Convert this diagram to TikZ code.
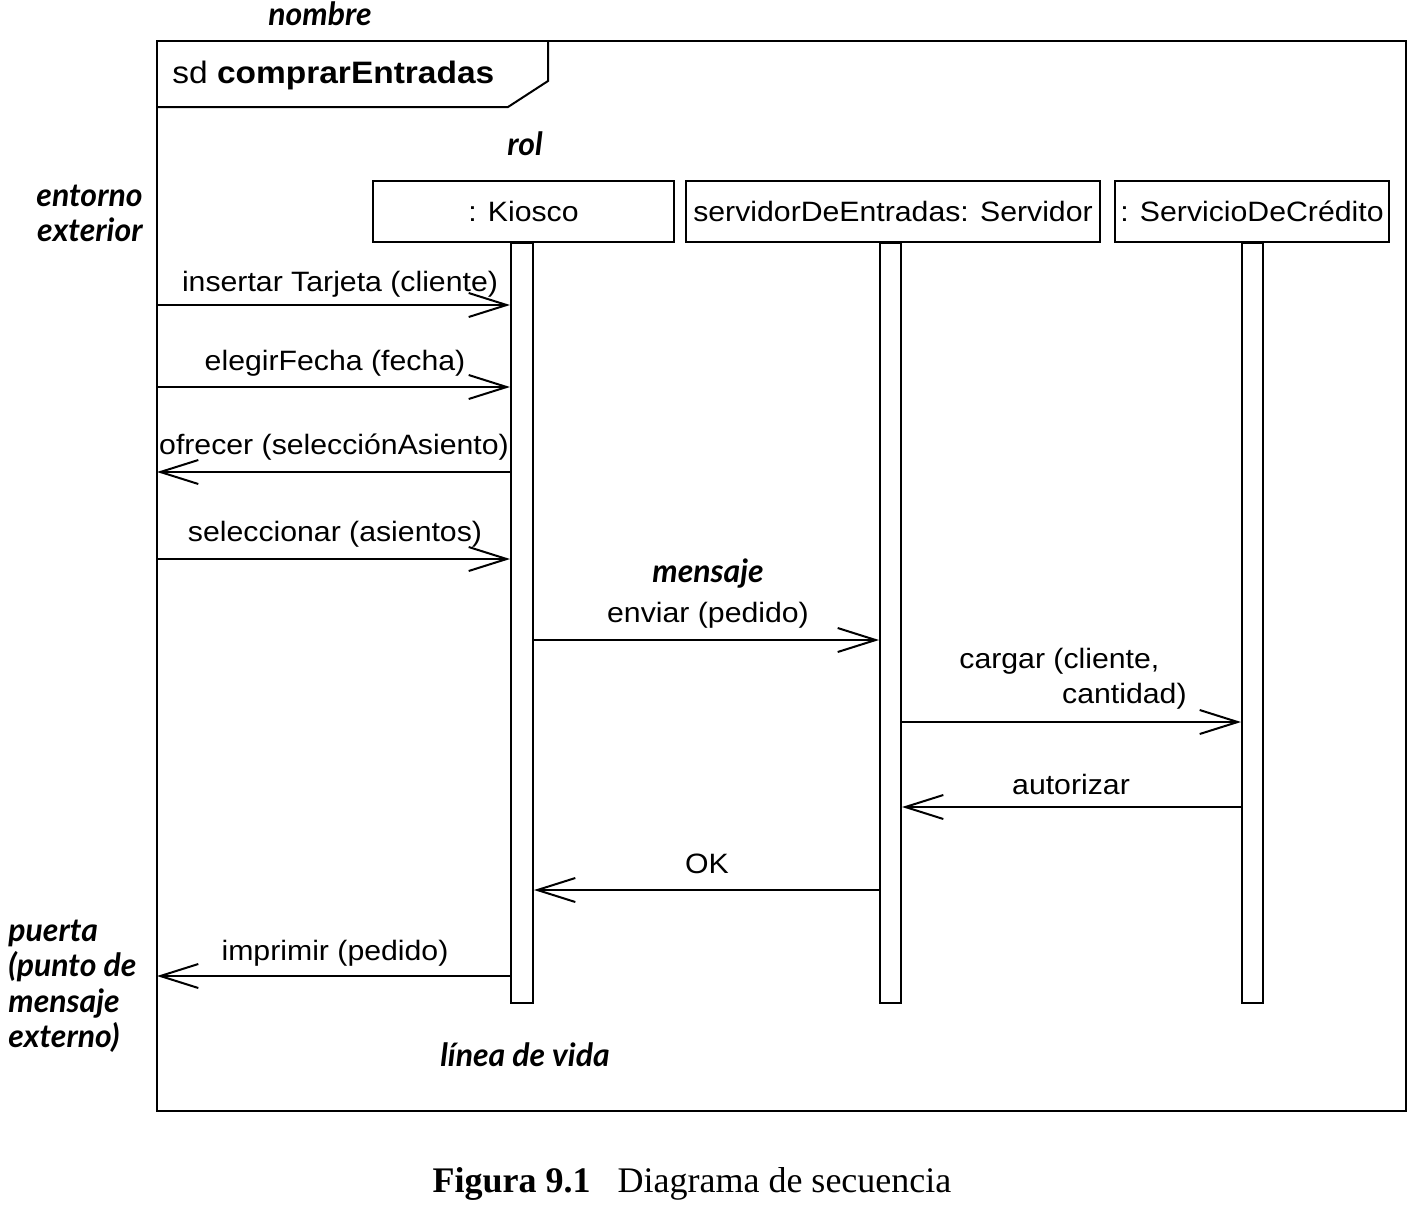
\documentclass[tikz,border=0pt]{standalone}
\usepackage{fontspec}
\setmainfont{Liberation Serif}
\newfontfamily\umlfont[FakeStretch=1.08]{Liberation Sans}
\newfontfamily\notefont{Lato}
\usetikzlibrary{arrows.meta}
\tikzset{
  umltext/.style={font=\umlfont\fontsize{14}{16}\selectfont, inner sep=0pt},
  note/.style={font=\notefont\fontsize{16}{17.5}\selectfont\bfseries\itshape, inner sep=0pt},
  head/.style={draw, line width=1pt, inner sep=0pt, umltext},
  bar/.style={draw, line width=1pt, fill=white, inner sep=0pt, minimum width=10.5pt, minimum height=380pt},
  msg/.style={draw, line width=1pt, -{Straight Barb[length=19pt,width=12pt,line width=1pt]}},
}
\begin{document}
\begin{tikzpicture}[x=0.5pt,y=-0.5pt]
\useasboundingbox (0,0) rectangle (1412,1205);

% frame
\coordinate (ftl) at (157,41);
\coordinate (fbr) at (1406,1111);
\draw[line width=1pt] (ftl) rectangle (fbr);
\draw[line width=1pt] (157,107) -- (508,107) -- (548,81) -- (548,41);
\node[umltext, anchor=base west, font=\umlfont\fontsize{15.5}{18}\selectfont] (title) at (172,83) {sd \textbf{comprarEntradas}};

% lifeline heads
\node[head, minimum width=150.5pt, minimum height=30.5pt] (kiosco) at (523.5,211.5) {: Kiosco};
\node[head, minimum width=207pt, minimum height=30.5pt] (servidor) at (893,211.5) {servidorDeEntradas: Servidor};
\node[head, minimum width=137pt, minimum height=30.5pt] (credito) at (1252,211.5) {: ServicioDeCrédito};

% activation bars
\node[bar, anchor=north, minimum width=11pt] (kb) at (522,242) {};
\node[bar, anchor=north] (sb) at (890.5,242) {};
\node[bar, anchor=north] (cb) at (1252.5,242) {};

% gate coordinates on the frame
\coordinate (g1) at (157,305);
\coordinate (g2) at (157,387);
\coordinate (g3) at (157,472);
\coordinate (g4) at (157,559);
\coordinate (g9) at (157,976);
\coordinate (m5) at (0,640);
\coordinate (m6) at (0,722);
\coordinate (m7) at (0,807);
\coordinate (m8) at (0,890);

% messages
\draw[msg] (g1) -- (g1 -| kb.west);
\draw[msg] (g2) -- (g2 -| kb.west);
\draw[msg] (g3 -| kb.west) -- (g3);
\draw[msg] (g4) -- (g4 -| kb.west);
\draw[msg] (m5 -| kb.east) -- (m5 -| sb.west);
\draw[msg] (m6 -| sb.east) -- (m6 -| cb.west);
\draw[msg] (m7 -| cb.west) -- (m7 -| sb.east);
\draw[msg] (m8 -| sb.west) -- (m8 -| kb.east);
\draw[msg] (g9 -| kb.west) -- (g9);

% message labels
\node[umltext, anchor=base] (l1) at (340,291) {insertar Tarjeta (cliente)};
\node[umltext, anchor=base] (l2) at (335,370) {elegirFecha (fecha)};
\node[umltext, anchor=base] (l3) at (334,454) {ofrecer (selecciónAsiento)};
\node[umltext, anchor=base] (l4) at (335,541) {seleccionar (asientos)};
\node[umltext, anchor=base] (l5) at (708,622) {enviar (pedido)};
\node[umltext, anchor=base west] (l6a) at (959,668) {cargar (cliente,};
\node[umltext, anchor=base east] (l6b) at (1187,703) {cantidad)};
\node[umltext, anchor=base] (l7) at (1071,794) {autorizar};
\node[umltext, anchor=base] (l8) at (707,873) {OK};
\node[umltext, anchor=base] (l9) at (335,960) {imprimir (pedido)};

% annotations
\node[note, anchor=base] (nombre) at (320,25) {nombre};
\node[note, anchor=base] (rol) at (525,155) {rol};
\node[note, anchor=base east] (ent1) at (143,206) {entorno};
\node[note, anchor=base east] (ent2) at (143,241) {exterior};
\node[note, anchor=base west] (mensaje) at (652,582) {mensaje};
\node[note, anchor=base west] (p1) at (8,941) {puerta};
\node[note, anchor=base west] (p2) at (8,976) {(punto de};
\node[note, anchor=base west] (p3) at (8,1012) {mensaje};
\node[note, anchor=base west] (p4) at (8,1047) {externo)};
\node[note, anchor=base] (vida) at (525,1066) {línea de vida};

% caption
\node[anchor=base, inner sep=0pt, font=\fontsize{18}{20}\selectfont] (cap) at (692,1192) {\textbf{Figura 9.1}\hspace{0.75em}Diagrama de secuencia};
\end{tikzpicture}
\end{document}
